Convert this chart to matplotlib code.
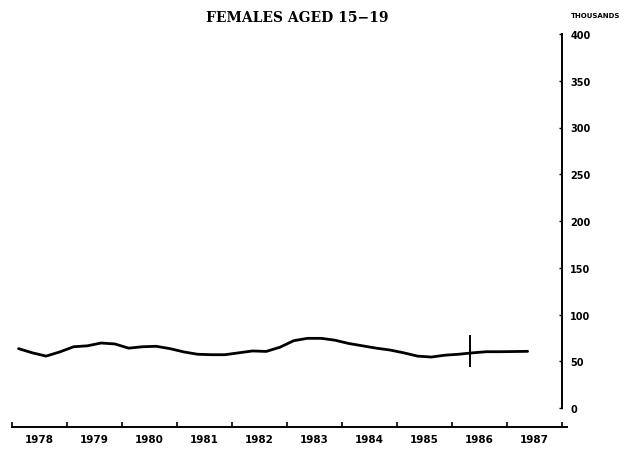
import numpy as np
import matplotlib
matplotlib.use('Agg')
import matplotlib.pyplot as plt

# quarterly values, thousands
quarters = np.arange(1978.125, 1987.376, 0.25)
females_15_19 = [63.5, 59, 55.5, 60,
                 65.5, 66.5, 69.5, 68.5,
                 64, 65.5, 66, 63.5,
                 60, 57.5, 57, 57,
                 59, 61, 60.5, 65,
                 72, 74.5, 74.5, 72.5,
                 69, 66.5, 64, 62,
                 59, 55.5, 54.5, 56.5,
                 57.5, 59, 60.2, 60.2,
                 60.4, 60.6]
break_year = 1986.33
break_span = [45, 77]

years = list(range(1978, 1988))
y_ticks = [0, 50, 100, 150, 200, 250, 300, 350, 400]

plt.rcParams['font.family'] = ['DejaVu Sans']

fig = plt.figure(figsize=(6.3, 4.52), dpi=100)
ax = fig.add_axes([11.7 / 630, 1 - 409 / 452, (567.5 - 11.7) / 630, (409 - 35) / 452])

ax.plot(quarters, females_15_19, color='black', lw=2, solid_capstyle='round',
        solid_joinstyle='round')
ax.plot([break_year, break_year], break_span, color='black', lw=1.4)

ax.set_xlim(1978, 1988.1)
ax.set_ylim(0, 400)

# spines
ax.spines['top'].set_visible(False)
ax.spines['left'].set_visible(False)
ax.spines['right'].set_position(('data', 1988))
ax.spines['right'].set_bounds(0, 400)
ax.spines['right'].set_linewidth(1.4)
ax.spines['bottom'].set_position(('outward', 13.5))
ax.spines['bottom'].set_linewidth(1.4)

# y axis on the right, ticks pointing left
ax.yaxis.tick_right()
ax.set_yticks(y_ticks)
ax.set_yticklabels([str(v) for v in y_ticks], fontsize=7, fontweight='bold')
ax.tick_params(axis='y', direction='in', length=2.5, width=1, pad=6)

# x axis: ticks at year boundaries, labels centered in each year
ax.set_xticks(years + [1988])
ax.set_xticklabels([])
ax.tick_params(axis='x', which='major', direction='in', length=3.5, width=1.2)
ax.set_xticks([y + 0.5 for y in years], minor=True)
ax.set_xticklabels([str(y) for y in years], minor=True, fontsize=7.5, fontweight='bold')
ax.tick_params(axis='x', which='minor', length=0, pad=5)

fig.text(297 / 630, 1 - 18 / 452, 'FEMALES AGED 15\u221219', ha='center', va='center',
         fontsize=10, fontweight='bold', family=['DejaVu Serif'])
fig.text(596 / 630, 1 - 16 / 452, 'THOUSANDS', ha='center', va='center',
         fontsize=5, fontweight='bold')

fig.savefig('out.png', dpi=100, facecolor='white')
